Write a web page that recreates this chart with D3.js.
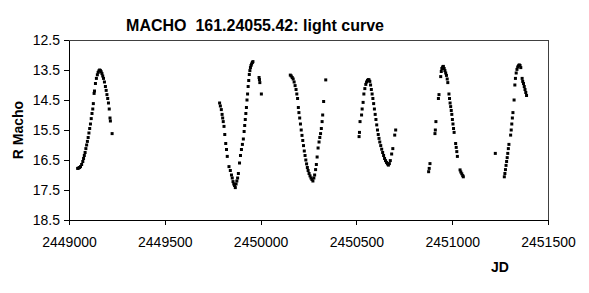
<!DOCTYPE html>
<html>
<head>
<meta charset="utf-8">
<script src="https://cdn.jsdelivr.net/npm/d3@7"></script>
<style>
  body { margin: 0; background: #fff; }
  svg { display: block; font-family: Arial, "Liberation Sans", sans-serif; }
</style>
</head>
<body>
<svg id="chart" width="589" height="293"></svg>
<script>
// observing seasons, [JD, R mag]
const season1 = [
  [2449045, 16.78], [2449050, 16.77], [2449055, 16.75], [2449060, 16.72], [2449066, 16.65],
  [2449072, 16.55], [2449076, 16.45], [2449080, 16.35], [2449084, 16.25], [2449088, 16.12],
  [2449092, 16.0], [2449096, 15.88], [2449100, 15.75], [2449104, 15.6], [2449108, 15.45],
  [2449112, 15.3], [2449116, 15.12], [2449120, 14.95], [2449124, 14.8], [2449127, 14.62],
  [2449131, 14.28], [2449133, 14.2], [2449138, 13.95], [2449143, 13.78], [2449148, 13.66],
  [2449152, 13.58], [2449156, 13.53], [2449160, 13.5], [2449164, 13.52], [2449168, 13.56],
  [2449172, 13.62], [2449176, 13.7], [2449180, 13.78], [2449185, 13.9], [2449190, 14.05],
  [2449194, 14.18], [2449198, 14.32], [2449202, 14.45], [2449206, 14.6], [2449210, 14.8],
  [2449214, 15.1], [2449216, 15.2], [2449225, 15.62]
];
const season2 = [
  [2449786, 14.6], [2449790, 14.7], [2449795, 14.82], [2449799, 14.98], [2449802, 15.1],
  [2449805, 15.22], [2449809, 15.38], [2449813, 15.65], [2449818, 15.95], [2449822, 16.15],
  [2449826, 16.38], [2449835, 16.72], [2449842, 16.85], [2449848, 17.0], [2449852, 17.1],
  [2449856, 17.22], [2449860, 17.3], [2449864, 17.35], [2449868, 17.42], [2449872, 17.3],
  [2449876, 17.2], [2449880, 17.1], [2449884, 16.95], [2449890, 16.6], [2449895, 16.35],
  [2449900, 16.15], [2449905, 15.98], [2449910, 15.8], [2449914, 15.55], [2449917, 15.35],
  [2449920, 15.15], [2449923, 14.95], [2449926, 14.75], [2449929, 14.5], [2449932, 14.3],
  [2449935, 14.05], [2449938, 13.85], [2449941, 13.65], [2449944, 13.52], [2449947, 13.42],
  [2449950, 13.35], [2449953, 13.3], [2449957, 13.25], [2449960, 13.22], [2449992, 13.75],
  [2449994, 13.82], [2449996, 13.92], [2450004, 14.3]
];
const season3 = [
  [2450155, 13.67], [2450160, 13.7], [2450165, 13.75], [2450170, 13.8], [2450175, 13.9],
  [2450180, 14.02], [2450185, 14.15], [2450189, 14.3], [2450193, 14.45], [2450197, 14.75],
  [2450200, 14.92], [2450204, 15.1], [2450208, 15.3], [2450212, 15.5], [2450216, 15.68],
  [2450220, 15.85], [2450224, 16.02], [2450228, 16.2], [2450232, 16.35], [2450236, 16.5],
  [2450240, 16.63], [2450244, 16.75], [2450248, 16.85], [2450253, 16.95], [2450258, 17.03],
  [2450263, 17.1], [2450268, 17.15], [2450273, 17.2], [2450278, 17.1], [2450282, 17.0],
  [2450287, 16.82], [2450291, 16.65], [2450295, 16.4], [2450300, 16.1], [2450305, 15.9],
  [2450309, 15.75], [2450313, 15.62], [2450317, 15.45], [2450321, 15.22], [2450324, 15.0],
  [2450329, 14.55], [2450340, 13.83]
];
const season4 = [
  [2450514, 15.72], [2450516, 15.58], [2450519, 15.22], [2450527, 15.0], [2450530, 14.8],
  [2450535, 14.58], [2450539, 14.3], [2450544, 14.12], [2450549, 13.98], [2450553, 13.9],
  [2450558, 13.85], [2450562, 13.82], [2450566, 13.83], [2450570, 13.88], [2450574, 14.0],
  [2450578, 14.15], [2450582, 14.3], [2450586, 14.45], [2450590, 14.62], [2450594, 14.8],
  [2450598, 14.98], [2450602, 15.15], [2450606, 15.33], [2450610, 15.5], [2450614, 15.65],
  [2450618, 15.78], [2450622, 15.9], [2450627, 16.02], [2450632, 16.14], [2450637, 16.25],
  [2450642, 16.35], [2450647, 16.45], [2450652, 16.52], [2450657, 16.58], [2450662, 16.63],
  [2450667, 16.67], [2450672, 16.62], [2450677, 16.52], [2450684, 16.3], [2450690, 16.12],
  [2450700, 15.67], [2450705, 15.5]
];
const season5 = [
  [2450877, 16.89], [2450880, 16.78], [2450884, 16.62], [2450910, 15.62], [2450912, 15.5],
  [2450915, 15.22], [2450928, 14.45], [2450931, 14.32], [2450940, 13.72], [2450943, 13.55],
  [2450946, 13.45], [2450950, 13.4], [2450954, 13.38], [2450958, 13.45], [2450962, 13.52],
  [2450966, 13.6], [2450970, 13.68], [2450974, 13.8], [2450977, 13.92], [2450983, 14.3],
  [2450986, 14.45], [2450989, 14.6], [2450992, 14.72], [2450995, 14.85], [2450998, 14.98],
  [2451001, 15.15], [2451004, 15.3], [2451007, 15.45], [2451010, 15.58], [2451018, 15.95],
  [2451021, 16.08], [2451024, 16.22], [2451027, 16.38], [2451041, 16.83], [2451045, 16.9],
  [2451050, 16.96], [2451055, 17.02], [2451058, 17.06]
];
const season6 = [
  [2451225, 16.28], [2451272, 17.06], [2451275, 16.95], [2451278, 16.82], [2451281, 16.68],
  [2451284, 16.55], [2451287, 16.42], [2451290, 16.28], [2451293, 16.12], [2451296, 15.98],
  [2451305, 15.67], [2451308, 15.5], [2451311, 15.3], [2451314, 15.1], [2451317, 14.92],
  [2451323, 14.5], [2451327, 14.0], [2451330, 13.78], [2451334, 13.6], [2451338, 13.48],
  [2451342, 13.4], [2451346, 13.36], [2451350, 13.33], [2451354, 13.35], [2451358, 13.42],
  [2451365, 13.78], [2451368, 13.88], [2451372, 13.95], [2451376, 14.05], [2451380, 14.15],
  [2451384, 14.25], [2451388, 14.35]
];

const xTicks = [2449000, 2449500, 2450000, 2450500, 2451000, 2451500];
const yTicks = [12.5, 13.5, 14.5, 15.5, 16.5, 17.5, 18.5];

const margin = { top: 40, left: 69, bottom: 73, right: 41 };
const svgWidth = 589, svgHeight = 293;

const svg = d3.select("#chart");

const x = d3.scaleLinear()
  .domain([2449000, 2451500])
  .range([margin.left, svgWidth - margin.right]);
const y = d3.scaleLinear()
  .domain([12.5, 18.5]) // magnitudes, brighter at top
  .range([margin.top, svgHeight - margin.bottom]);

// plot area border
svg.append("rect")
  .attr("x", x(2449000))
  .attr("y", y(12.5))
  .attr("width", x(2451500) - x(2449000))
  .attr("height", y(18.5) - y(12.5))
  .attr("fill", "none")
  .attr("stroke", "#404040")
  .attr("stroke-width", 1)
  .attr("shape-rendering", "crispEdges");

const yAxis = svg.append("g")
  .attr("transform", `translate(${x(2449000)},0)`)
  .call(d3.axisLeft(y).tickValues(yTicks).tickSize(5).tickSizeOuter(0).tickPadding(4)
    .tickFormat(d3.format(".1f")));

const xAxis = svg.append("g")
  .attr("transform", `translate(0,${y(18.5)})`)
  .call(d3.axisBottom(x).tickValues(xTicks).tickSize(5).tickSizeOuter(0).tickPadding(12)
    .tickFormat(d3.format("d")));

[yAxis, xAxis].forEach(g => {
  g.selectAll("path, line").attr("stroke", "#000").attr("shape-rendering", "crispEdges");
  g.selectAll("text").attr("font-size", 14).attr("fill", "#000")
    .attr("font-family", "Arial, 'Liberation Sans', sans-serif");
});

// points
const allSeasons = [season1, season2, season3, season4, season5, season6];
svg.append("g")
  .selectAll("g")
  .data(allSeasons)
  .join("g")
  .selectAll("rect")
  .data(d => d)
  .join("rect")
  .attr("x", d => x(d[0]) - 1.5)
  .attr("y", d => y(d[1]) - 1.5)
  .attr("width", 3)
  .attr("height", 3)
  .attr("fill", "#000");

// title and axis labels
svg.append("text")
  .attr("x", 255)
  .attr("y", 31)
  .attr("text-anchor", "middle")
  .attr("font-size", 16)
  .attr("font-weight", "bold")
  .style("white-space", "pre")
  .text("MACHO  161.24055.42: light curve");

svg.append("text")
  .attr("transform", `translate(23,${(y(12.5) + y(18.5)) / 2}) rotate(-90)`)
  .attr("text-anchor", "middle")
  .attr("font-size", 14)
  .attr("font-weight", "bold")
  .text("R Macho");

svg.append("text")
  .attr("x", 500)
  .attr("y", 272)
  .attr("text-anchor", "middle")
  .attr("font-size", 14)
  .attr("font-weight", "bold")
  .text("JD");
</script>
</body>
</html>
